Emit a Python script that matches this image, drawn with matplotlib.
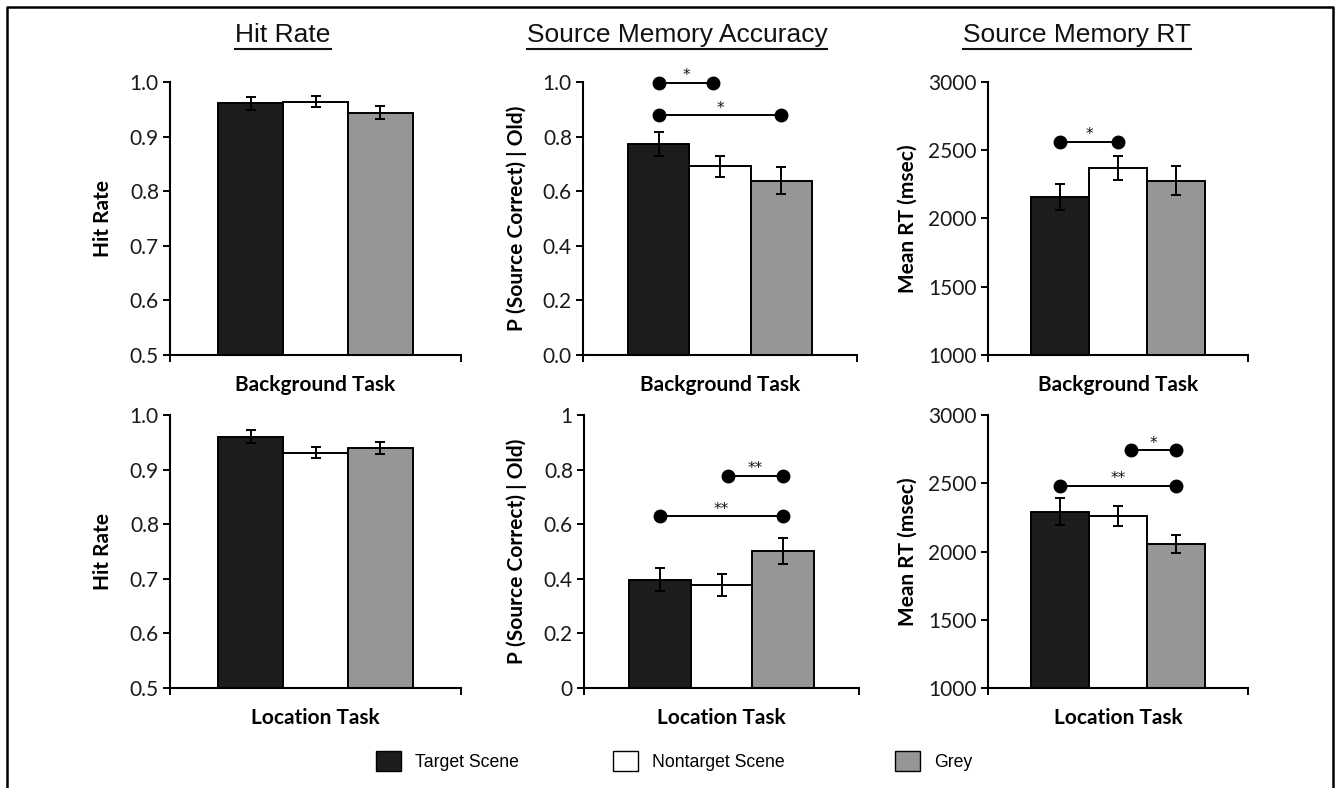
import matplotlib
matplotlib.use('Agg')
import matplotlib.pyplot as plt
from matplotlib.lines import Line2D
from matplotlib.patches import Patch

# ---------------- data ----------------
conditions = ['Target Scene', 'Nontarget Scene', 'Grey']
bar_colors = ['#1c1c1c', '#ffffff', '#969696']
panel_titles = ['Hit Rate', 'Source Memory Accuracy', 'Source Memory RT']
tasks = ['Background Task', 'Location Task']
ylabels = ['Hit Rate', 'P (Source Correct) | Old)', 'Mean RT (msec)']

hit_bg = [0.961, 0.964, 0.944]
hit_bg_err = [0.012, 0.010, 0.012]
hit_loc = [0.960, 0.931, 0.940]
hit_loc_err = [0.012, 0.010, 0.011]

acc_bg = [0.773, 0.691, 0.639]
acc_bg_err = [0.043, 0.039, 0.048]
acc_loc = [0.397, 0.377, 0.502]
acc_loc_err = [0.043, 0.041, 0.048]

rt_bg = [2159, 2368, 2276]
rt_bg_err = [95, 88, 107]
rt_loc = [2292, 2260, 2056]
rt_loc_err = [101, 70, 67]

# significance brackets: (x_start, x_end, y, stars) in bar-index units
sig_hit_bg = []
sig_hit_loc = []
sig_acc_bg = [(-1, -0.11, 0.998, '*'), (-1, 1, 0.878, '*')]
sig_acc_loc = [(0.1, 1, 0.777, '**'), (-1, 1, 0.629, '**')]
sig_rt_bg = [(-1, 0, 2563, '*')]
sig_rt_loc = [(0.22, 1, 2742, '*'), (-1, 1, 2482, '**')]

hit_ticks = [0.5, 0.6, 0.7, 0.8, 0.9, 1.0]
hit_ticklabels = ['0.5', '0.6', '0.7', '0.8', '0.9', '1.0']
acc_ticks = [0.0, 0.2, 0.4, 0.6, 0.8, 1.0]
acc_bg_ticklabels = ['0.0', '0.2', '0.4', '0.6', '0.8', '1.0']
acc_loc_ticklabels = ['0', '0.2', '0.4', '0.6', '0.8', '1']
rt_ticks = [1000, 1500, 2000, 2500, 3000]
rt_ticklabels = ['1000', '1500', '2000', '2500', '3000']

panels = [
    # row 0
    [(hit_bg, hit_bg_err, sig_hit_bg, (0.5, 1.0), hit_ticks, hit_ticklabels),
     (acc_bg, acc_bg_err, sig_acc_bg, (0.0, 1.0), acc_ticks, acc_bg_ticklabels),
     (rt_bg, rt_bg_err, sig_rt_bg, (1000, 3000), rt_ticks, rt_ticklabels)],
    # row 1
    [(hit_loc, hit_loc_err, sig_hit_loc, (0.5, 1.0), hit_ticks, hit_ticklabels),
     (acc_loc, acc_loc_err, sig_acc_loc, (0.0, 1.0), acc_ticks, acc_loc_ticklabels),
     (rt_loc, rt_loc_err, sig_rt_loc, (1000, 3000), rt_ticks, rt_ticklabels)],
]

# ---------------- layout ----------------
W, H = 1335, 788
fig = plt.figure(figsize=(W / 100, H / 100), dpi=100)
fig.patch.set_facecolor('white')

tick_font = 'Lato'
col_left = [[170, 583, 988], [170, 584, 988]]
col_width = [[291, 274, 260], [291, 275, 260]]
row_bottom = [355, 688]
ax_h = 273
ylabel_cx = [103, 517, 908]
positions = [-1, 0, 1]

for r in range(2):
    for c in range(3):
        vals, errs, sigs, ylim, ticks, tlabels = panels[r][c]
        L = col_left[r][c]
        Wd = col_width[r][c]
        ax = fig.add_axes([L / W, 1 - row_bottom[r] / H, Wd / W, ax_h / H])
        ymin = ylim[0]
        heights = [v - ymin for v in vals]
        ax.bar(positions, heights, width=1.0, bottom=ymin, color=bar_colors,
               edgecolor='black', linewidth=1.4, zorder=2)
        ax.errorbar(positions, vals, yerr=errs, fmt='none', ecolor='black',
                    elinewidth=1.4, capsize=3.6, capthick=1.4, zorder=3)
        for (x1, x2, y, stars) in sigs:
            ax.plot([x1, x2], [y, y], color='black', lw=1.4, marker='o',
                    markersize=9, clip_on=False, zorder=4)
            ax.annotate(stars, xy=((x1 + x2) / 2, y), xytext=(0, 5),
                        textcoords='offset points', ha='center', va='center',
                        fontsize=11, family='DejaVu Sans', color='#111111')
        ax.set_xlim(-2.24, 2.24)
        ax.set_ylim(*ylim)
        ax.set_yticks(ticks)
        ax.set_yticklabels(tlabels, family=tick_font, fontsize=15, color='#1a1a1a')
        ax.set_xticks([-2.24, 2.24])
        ax.set_xticklabels([])
        ax.tick_params(axis='both', direction='out', length=5, width=1.4, color='black')
        ax.tick_params(axis='y', pad=3)
        for s in ['top', 'right']:
            ax.spines[s].set_visible(False)
        for s in ['left', 'bottom']:
            ax.spines[s].set_linewidth(1.5)
            ax.spines[s].set_zorder(5)
        ax.set_ylabel(ylabels[c], family=tick_font, fontweight='bold', fontsize=15)
        ax.yaxis.label.set_va('center')
        ax.yaxis.set_label_coords((ylabel_cx[c] - L) / Wd, 0.5)
        ax.set_xlabel(tasks[r], family=tick_font, fontweight='bold', fontsize=15)
        ax.xaxis.set_label_coords(0.5, -30 / ax_h)
        ax.xaxis.label.set_va('center')

# ---------------- titles with underline ----------------
title_cx = [283, 677, 1077]
title_objs = []
for t, cx in zip(panel_titles, title_cx):
    txt = fig.text(cx / W, 1 - 35 / H, t, ha='center', va='center',
                   family='Liberation Sans', fontsize=19, color='#111111')
    title_objs.append(txt)

fig.canvas.draw()
renderer = fig.canvas.get_renderer()
for txt in title_objs:
    bb = txt.get_window_extent(renderer)
    fig.add_artist(Line2D([bb.x0 / W, bb.x1 / W], [1 - 49 / H, 1 - 49 / H],
                          transform=fig.transFigure, color='#111111', lw=1.5))

# ---------------- legend ----------------
legend_x = [376, 613, 895]
for name, col, lx in zip(conditions, bar_colors, legend_x):
    h = Patch(facecolor=col, edgecolor='black', linewidth=1.0)
    fig.legend(handles=[h], labels=[name], loc='center left',
               bbox_to_anchor=(lx / W, 1 - 761 / H), frameon=False,
               borderpad=0, borderaxespad=0, handlelength=1.42, handleheight=1.42,
               handletextpad=0.8,
               prop={'family': 'Liberation Sans', 'size': 12.7})

# ---------------- frame (left, top, right) ----------------
fig.add_artist(Line2D([7 / W, 7 / W, 1333 / W, 1333 / W],
                      [0, 1 - 7 / H, 1 - 7 / H, 0],
                      transform=fig.transFigure, color='black', lw=1.8))

fig.savefig('out.png', dpi=100, facecolor='white')
